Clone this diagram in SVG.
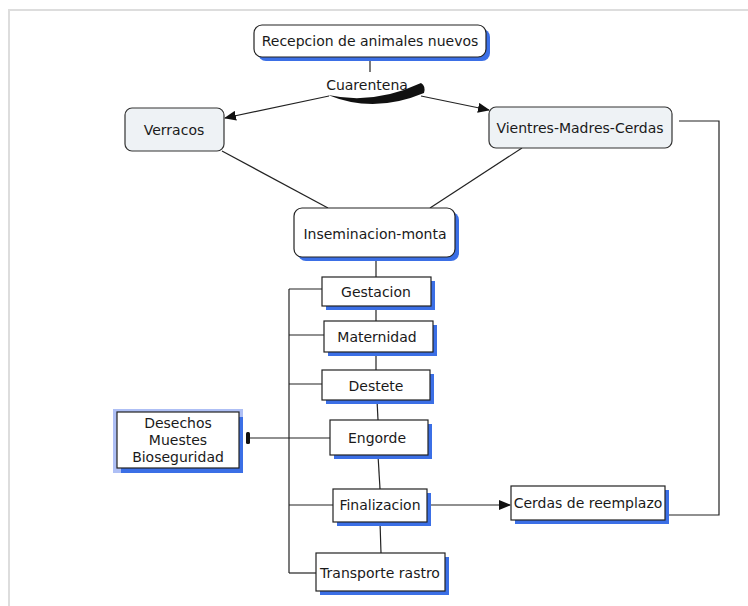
<svg xmlns="http://www.w3.org/2000/svg" width="748" height="606" viewBox="0 0 748 606">
<defs>
<style>
text{font-family:"DejaVu Sans","Liberation Sans",sans-serif;font-size:14px;fill:#1a1a1a;text-anchor:middle;dominant-baseline:central}
.box{fill:#fff;stroke:#222;stroke-width:1.2}
.grey{fill:#eef2f5;stroke:#333;stroke-width:1.2}
.sh{fill:#3b6fe6}
.ln{stroke:#222;stroke-width:1.2;fill:none}
</style>
<marker id="arr" markerWidth="12" markerHeight="10" refX="11" refY="5" orient="auto" markerUnits="userSpaceOnUse">
<path d="M0,0 L12,5 L0,10 Z" fill="#111"/>
</marker>
<marker id="bar" markerWidth="4" markerHeight="12" refX="1" refY="6" orient="auto" markerUnits="userSpaceOnUse">
<rect x="0" y="0" width="4" height="12" rx="1.5" fill="#111"/>
</marker>
</defs>
<rect width="748" height="606" fill="#fff"/>
<path d="M9,606 V10 H748" fill="none" stroke="#ddd" stroke-width="2"/>

<g id="connectors">
<line class="ln" x1="370" y1="57" x2="370" y2="72"/>
<line class="ln" x1="329" y1="96" x2="225" y2="118" marker-end="url(#arr)"/>
<line class="ln" x1="421" y1="96" x2="489" y2="110" marker-end="url(#arr)"/>
<path d="M328,95 Q374,114 424,93 Q426,86 421,83 Q374,105 328,95 Z" fill="#111"/>
<line class="ln" x1="222" y1="151" x2="328" y2="208"/>
<line class="ln" x1="522" y1="148" x2="430" y2="208"/>
<line class="ln" x1="376" y1="257" x2="376" y2="277"/>
<line class="ln" x1="376" y1="306" x2="376" y2="321"/>
<line class="ln" x1="376" y1="352" x2="376" y2="370"/>
<line class="ln" x1="377" y1="400" x2="378" y2="420"/>
<line class="ln" x1="378" y1="455" x2="380" y2="489"/>
<line class="ln" x1="380" y1="522" x2="381" y2="553"/>
<path class="ln" d="M289,289 V573"/>
<line class="ln" x1="289" y1="289" x2="322" y2="289"/>
<line class="ln" x1="289" y1="335" x2="324" y2="335"/>
<line class="ln" x1="289" y1="384" x2="322" y2="384"/>
<line class="ln" x1="330" y1="438" x2="249" y2="438" marker-end="url(#bar)"/>
<line class="ln" x1="289" y1="505" x2="333" y2="505"/>
<line class="ln" x1="289" y1="573" x2="316" y2="573"/>
<line class="ln" x1="427" y1="505" x2="510" y2="505" marker-end="url(#arr)"/>
<path class="ln" d="M665,515 H719 V121 H679"/>
</g>

<g id="recepcion">
<rect class="sh" x="258" y="29" width="232" height="32" rx="8"/>
<rect class="box" x="254" y="25" width="232" height="32" rx="8"/>
<text x="370" y="41">Recepcion de animales nuevos</text>
</g>
<g id="cuarentena">
<text x="367" y="85">Cuarentena</text>
</g>
<g id="verracos">
<rect class="grey" x="125" y="108" width="99" height="43" rx="7"/>
<text x="174" y="130">Verracos</text>
</g>
<g id="vientres">
<rect class="grey" x="489" y="107" width="183" height="41" rx="7"/>
<text x="580" y="128">Vientres-Madres-Cerdas</text>
</g>
<g id="inseminacion">
<rect class="sh" x="298" y="212" width="161" height="49" rx="8"/>
<rect class="box" x="294" y="208" width="161" height="49" rx="8"/>
<text x="375" y="234">Inseminacion-monta</text>
</g>
<g id="gestacion">
<rect class="sh" x="326" y="281" width="109" height="29"/>
<rect class="box" x="322" y="277" width="109" height="29"/>
<text x="376" y="292">Gestacion</text>
</g>
<g id="maternidad">
<rect class="sh" x="328" y="325" width="109" height="31"/>
<rect class="box" x="324" y="321" width="109" height="31"/>
<text x="377" y="337">Maternidad</text>
</g>
<g id="destete">
<rect class="sh" x="326" y="374" width="108" height="30"/>
<rect class="box" x="322" y="370" width="108" height="30"/>
<text x="376" y="386">Destete</text>
</g>
<g id="engorde">
<rect class="sh" x="334" y="424" width="98" height="35"/>
<rect class="box" x="330" y="420" width="98" height="35"/>
<text x="377" y="438">Engorde</text>
</g>
<g id="finalizacion">
<rect class="sh" x="337" y="493" width="94" height="33"/>
<rect class="box" x="333" y="489" width="94" height="33"/>
<text x="380" y="505">Finalizacion</text>
</g>
<g id="transporte">
<rect class="sh" x="320" y="557" width="129" height="38"/>
<rect class="box" x="316" y="553" width="129" height="38"/>
<text x="380" y="573">Transporte rastro</text>
</g>
<g id="cerdas">
<rect class="sh" x="515" y="490" width="154" height="34"/>
<rect class="box" x="511" y="486" width="154" height="34"/>
<text x="588" y="503">Cerdas de reemplazo</text>
</g>
<g id="desechos">
<rect x="113" y="409" width="130" height="64" fill="#aebff5"/>
<rect class="sh" x="121" y="417" width="122" height="56"/>
<rect class="box" x="117" y="412" width="122" height="56"/>
<text x="178" y="423">Desechos</text>
<text x="178" y="440">Muestes</text>
<text x="178" y="457">Bioseguridad</text>
</g>
</svg>
